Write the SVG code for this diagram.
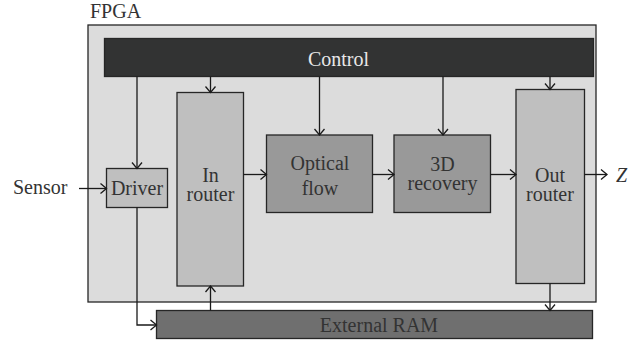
<svg xmlns="http://www.w3.org/2000/svg" width="641" height="343" viewBox="0 0 641 343">
<style>
.box{stroke:#262626;stroke-width:1.3}
text{font-family:'Liberation Serif','DejaVu Serif','Times New Roman',serif;font-size:20px;fill:#333;text-anchor:middle}
.c{fill:none;stroke:#1a1a1a;stroke-width:1.3;marker-end:url(#ah)}
</style>
<defs>
<marker id="ah" markerUnits="userSpaceOnUse" markerWidth="14" markerHeight="14" viewBox="-8 -7 10 14" refX="0" refY="0" orient="auto">
<path d="M-6,-5 L0,0 L-6,5" fill="none" stroke="#1a1a1a" stroke-width="1.3"/>
</marker>
</defs>
<rect width="641" height="343" fill="#fff"/>
<g id="fpga">
<text x="90" y="18" style="text-anchor:start">FPGA</text>
<rect x="88" y="25" width="508" height="277" fill="#dcdcdc" class="box"/>
</g>
<g id="control">
<rect x="104.5" y="38.5" width="489" height="38" fill="#323333" class="box"/>
<text x="338.5" y="66" style="fill:#e8e8e8">Control</text>
</g>
<g id="driver">
<rect x="106.5" y="168.5" width="61" height="39" fill="#bfbfbf" class="box"/>
<text x="137" y="195">Driver</text>
</g>
<g id="inrouter">
<rect x="177" y="92.5" width="66.5" height="193.5" fill="#bfbfbf" class="box"/>
<text x="210.5" y="181.5">In</text>
<text x="210.5" y="201">router</text>
</g>
<g id="optical">
<rect x="266.5" y="135" width="106" height="77.5" fill="#999999" class="box"/>
<text x="320" y="169.5">Optical</text>
<text x="320" y="195">flow</text>
</g>
<g id="recovery">
<rect x="394" y="135" width="96.5" height="77.5" fill="#999999" class="box"/>
<text x="442.5" y="171">3D</text>
<text x="442.5" y="190">recovery</text>
</g>
<g id="outrouter">
<rect x="516" y="89.5" width="68.5" height="194" fill="#bfbfbf" class="box"/>
<text x="550" y="182">Out</text>
<text x="550" y="201">router</text>
</g>
<g id="ram">
<rect x="156.5" y="310.5" width="436" height="28" fill="#6f6f6f" class="box"/>
<text x="379" y="332">External RAM</text>
</g>
<g id="sensor"><text x="13" y="194" style="text-anchor:start">Sensor</text></g>
<g id="z"><text x="616" y="182" style="text-anchor:start;font-style:italic">Z</text></g>
<g id="connectors">
<path class="c" d="M137,76.5 V168.5"/>
<path class="c" d="M210.5,76.5 V92.5"/>
<path class="c" d="M319.5,76.5 V135"/>
<path class="c" d="M443,76.5 V135"/>
<path class="c" d="M550,76.5 V89.5"/>
<path class="c" d="M79,188.5 H106.5"/>
<path class="c" d="M243.5,174.5 H266.5"/>
<path class="c" d="M372.5,174.5 H394"/>
<path class="c" d="M490.5,174.5 H516"/>
<path class="c" d="M584.5,174.5 H607"/>
<path class="c" d="M137,207.5 V325 H156.5"/>
<path class="c" d="M210.5,310.5 V286"/>
<path class="c" d="M550,283.5 V310.5"/>
</g>
</svg>
